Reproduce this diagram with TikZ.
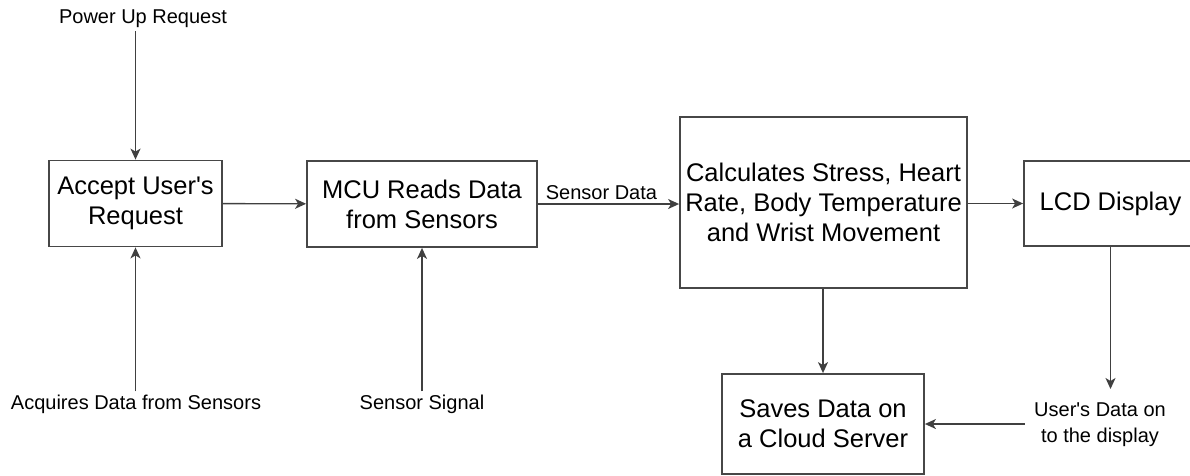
\documentclass[tikz,border=0pt]{standalone}
\usepackage{fontspec}
\setmainfont{Liberation Sans}
\usetikzlibrary{arrows.meta}
\begin{document}
\begin{tikzpicture}[x=1pt,y=-1pt,
  box/.style={draw=black!72,line width=1.8pt,align=center,inner sep=0pt,
    font=\fontsize{25.5}{30}\selectfont},
  lbl/.style={align=center,inner sep=3pt,font=\fontsize{20}{26}\selectfont},
  arr/.style={draw=black!75,line width=1.4pt,-{Stealth[length=11pt,width=10pt,inset=3pt]}}]
\clip (0,0) rectangle (1190,475);
\node[box,minimum width=173pt,minimum height=86pt] (accept) at (135.5,203.5) {Accept User\textquotesingle s\\Request};
\node[box,minimum width=230pt,minimum height=86pt] (mcu) at (422,204) {MCU Reads Data\\from Sensors};
\node[box,minimum width=287pt,minimum height=171pt] (calc) at (823.5,202.5) {Calculates Stress, Heart\\Rate, Body Temperature\\and Wrist Movement};
\node[box,minimum width=173pt,minimum height=85pt] (lcd) at (1110.5,203.5) {LCD Display};
\node[box,minimum width=202pt,minimum height=100pt] (cloud) at (823,424) {Saves Data on\\a Cloud Server};
\node[lbl] (power) at (143,19) {Power Up Request};
\node[lbl] (acquire) at (136,404) {Acquires Data from Sensors};
\node[lbl] (signal) at (422,404) {Sensor Signal};
\node[lbl] (userdata) at (1100,425) {User\textquotesingle s Data on\\to the display};
\coordinate (lcdend) at (1110.5,389);
\draw[arr] (power.south -| accept.north) -- (accept.north);
\draw[arr] (acquire.north -| accept.south) -- (accept.south);
\draw[arr] (signal.north -| mcu.south) -- (mcu.south);
\draw[arr] (accept) -- (mcu);
\draw[arr] (mcu.east) -- node[lbl,above,inner sep=4pt,pos=0.45] (sdata) {Sensor Data} (mcu.east -| calc.west);
\draw[arr] (lcd.west -| calc.east) -- (lcd.west);
\draw[arr] (calc.south -| cloud.north) -- (cloud.north);
\draw[arr] (lcd.south) -- (lcdend);
\draw[arr,shorten <=6pt] (cloud.east -| userdata.west) -- (cloud.east);
\end{tikzpicture}
\end{document}
